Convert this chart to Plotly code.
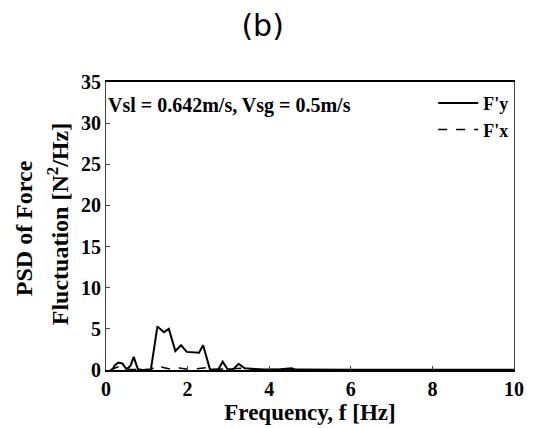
import plotly.graph_objects as go

# F'y (solid) readings
fy_freq = [0.1, 0.15, 0.22, 0.3, 0.4, 0.5, 0.6, 0.68, 0.78, 0.9, 1.1, 1.18, 1.26, 1.42, 1.54, 1.70, 1.84,
           1.98, 2.14, 2.28, 2.38, 2.46, 2.55, 2.75, 2.86, 2.98, 3.12, 3.25, 3.4, 3.55, 3.7, 3.9,
           4.2, 4.55, 4.65, 5.0, 6.0, 7.0, 8.0, 9.0, 10.0]
fy_psd = [0.0, 0.0, 0.6, 0.9, 0.8, 0.1, 0.5, 1.6, 0.1, 0.0, 0.05, 2.5, 5.3, 4.6, 5.0, 2.3, 3.0,
          2.2, 2.1, 2.1, 3.0, 1.6, 0.05, 0.05, 1.0, 0.1, 0.1, 0.75, 0.2, 0.15, 0.1, 0.05,
          0.05, 0.2, 0.05, 0.03, 0.02, 0.02, 0.02, 0.02, 0.02]

# F'x (dashed) readings
fx_freq = [0.1, 0.3, 0.45, 0.6, 1.1, 1.26, 1.4, 1.6, 1.8, 2.0, 2.2, 2.5, 2.6, 3.0, 3.3, 3.6, 4.0, 10.0]
fx_psd = [0.0, 0.4, 0.3, 0.05, 0.05, 0.6, 0.3, 0.1, 0.25, 0.1, 0.15, 0.3, 0.05, 0.1, 0.2, 0.05, 0.05, 0.02]

x_ticks = [0, 2, 4, 6, 8, 10]
y_ticks = [0, 5, 10, 15, 20, 25, 30, 35]

serif = "Liberation Serif, Times New Roman, serif"
bold_black = dict(family=serif, color="black", weight="bold")

fig = go.Figure()
fig.add_trace(go.Scatter(x=fy_freq, y=fy_psd, mode="lines", name="F'y",
                         line=dict(color="black", width=2)))
fig.add_trace(go.Scatter(x=fx_freq, y=fx_psd, mode="lines", name="F'x",
                         line=dict(color="black", width=1.5, dash="dash")))

fig.update_layout(
    width=536, height=428,
    margin=dict(l=106, r=14, t=82, b=58),
    paper_bgcolor="white", plot_bgcolor="white",
    title=dict(text="(b)", x=0.49, xanchor="center", y=0.94, yanchor="middle",
               font=dict(family="DejaVu Sans, Verdana, sans-serif", size=30, color="black")),
    font=dict(family=serif, color="black"),
    showlegend=True,
    legend=dict(x=0.998, y=0.99, xanchor="right", yanchor="top", bgcolor="rgba(0,0,0,0)",
                font=dict(size=18, **bold_black), tracegroupgap=0, itemwidth=40),
)

fig.update_xaxes(range=[0, 10], tickvals=x_ticks, ticks="inside", ticklen=4,
                 showgrid=False, zeroline=False, showline=True, linecolor="black", linewidth=1.5,
                 mirror=True,
                 tickfont=dict(size=20, **bold_black),
                 title=dict(text="Frequency, f [Hz]", standoff=0,
                            font=dict(size=23, **bold_black)))
fig.update_yaxes(range=[0, 35], tickvals=y_ticks, ticks="inside", ticklen=4,
                 showgrid=False, zeroline=False, showline=True, linecolor="#444", linewidth=1,
                 mirror=True,
                 tickfont=dict(size=20, **bold_black))

fig.add_annotation(x=-0.2005, y=0.493, xref="paper", yref="paper", xanchor="center", yanchor="middle",
                   text="PSD of Force", textangle=-90, showarrow=False,
                   font=dict(size=24, **bold_black))
fig.add_annotation(x=-0.117, y=0.507, xref="paper", yref="paper", xanchor="center", yanchor="middle",
                   text="Fluctuation [N<sup>2</sup>/Hz]", textangle=-90, showarrow=False,
                   font=dict(size=24, **bold_black))

fig.add_annotation(x=0.0, y=0.965, xref="paper", yref="paper", xanchor="left", yanchor="top",
                   text="Vsl = 0.642m/s, Vsg = 0.5m/s", showarrow=False,
                   font=dict(size=20, **bold_black))

fig.write_html("out.html")
